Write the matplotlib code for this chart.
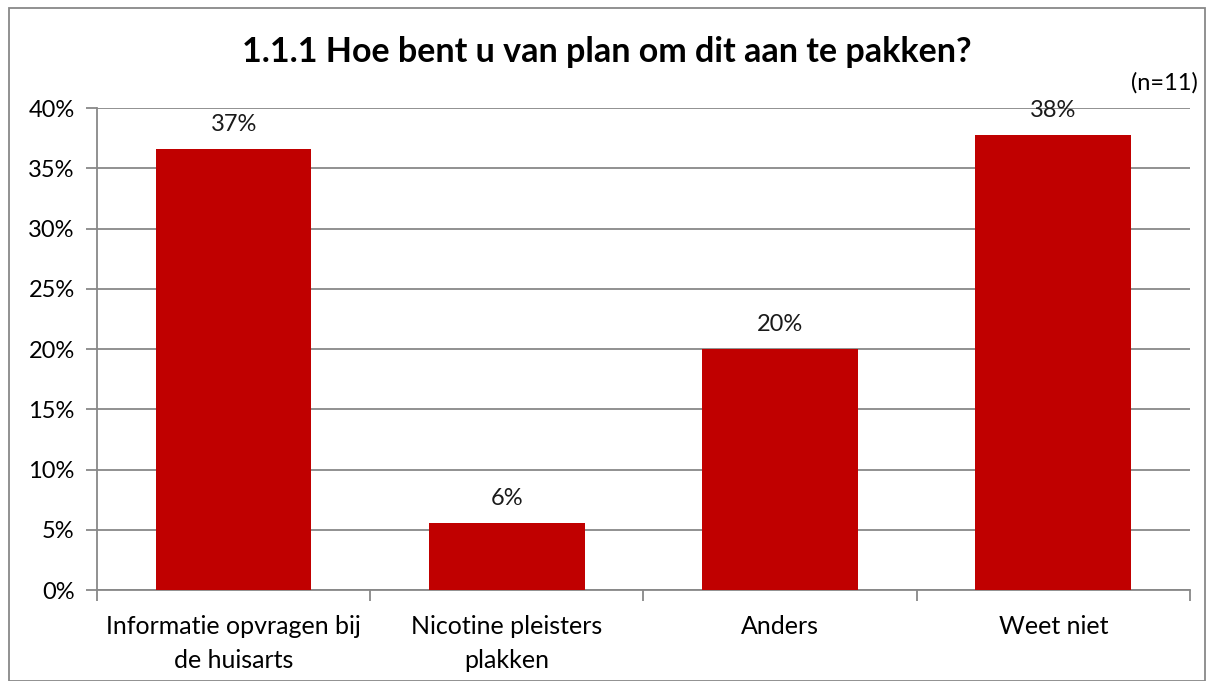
import matplotlib.pyplot as plt
from matplotlib.patches import Rectangle

categories = ["Informatie opvragen bij\nde huisarts", "Nicotine pleisters\nplakken", "Anders", "Weet niet"]
values = [36.6, 5.6, 20.0, 37.8]
value_labels = ["37%", "6%", "20%", "38%"]
yticks = [0, 5, 10, 15, 20, 25, 30, 35, 40]

plt.rcParams['font.family'] = ['Lato', 'DejaVu Sans']

fig = plt.figure(figsize=(12.14, 6.81), dpi=100)
ax = fig.add_axes([0.0799, 0.1336, 0.9003, 0.7078])

x = range(len(categories))
ax.bar(x, values, width=0.57, color="#C00000", zorder=3)

for i, (v, lab) in enumerate(zip(values, value_labels)):
    ax.text(i, v + 2.0, lab, ha="center", va="center", fontsize=17, color="#1a1a1a")

ax.set_xlim(-0.5, len(categories) - 0.5)
ax.set_ylim(0, 40)
ax.set_yticks(yticks)
ax.set_yticklabels([f"{t}%" for t in yticks], fontsize=17)
ax.grid(axis="y", color="#888888", linewidth=1.3, zorder=0)

ax.set_xticks(x)
ax.set_xticklabels(categories, fontsize=18, linespacing=1.6)
ax.set_xticks([i - 0.5 for i in range(len(categories) + 1)], minor=True)
ax.tick_params(axis="x", which="major", length=0, pad=18)
ax.tick_params(axis="x", which="minor", length=8, color="#888888", width=1.3, direction="out")
ax.tick_params(axis="y", length=8, color="#888888", width=1.3, pad=8)

for s in ["top", "right"]:
    ax.spines[s].set_visible(False)
for s in ["left", "bottom"]:
    ax.spines[s].set_color("#888888")
    ax.spines[s].set_linewidth(1.3)

fig.text(0.5, 0.924, "1.1.1 Hoe bent u van plan om dit aan te pakken?", ha="center", va="center",
         fontsize=24.5, fontweight="bold")
fig.text(0.959, 0.879, "(n=11)", ha="center", va="center", fontsize=17)

fig.patches.append(Rectangle((0.0074, 0.0), 0.985, 0.988, transform=fig.transFigure,
                             fill=False, edgecolor="#888888", linewidth=1.3))

fig.savefig("out.png", dpi=100)
